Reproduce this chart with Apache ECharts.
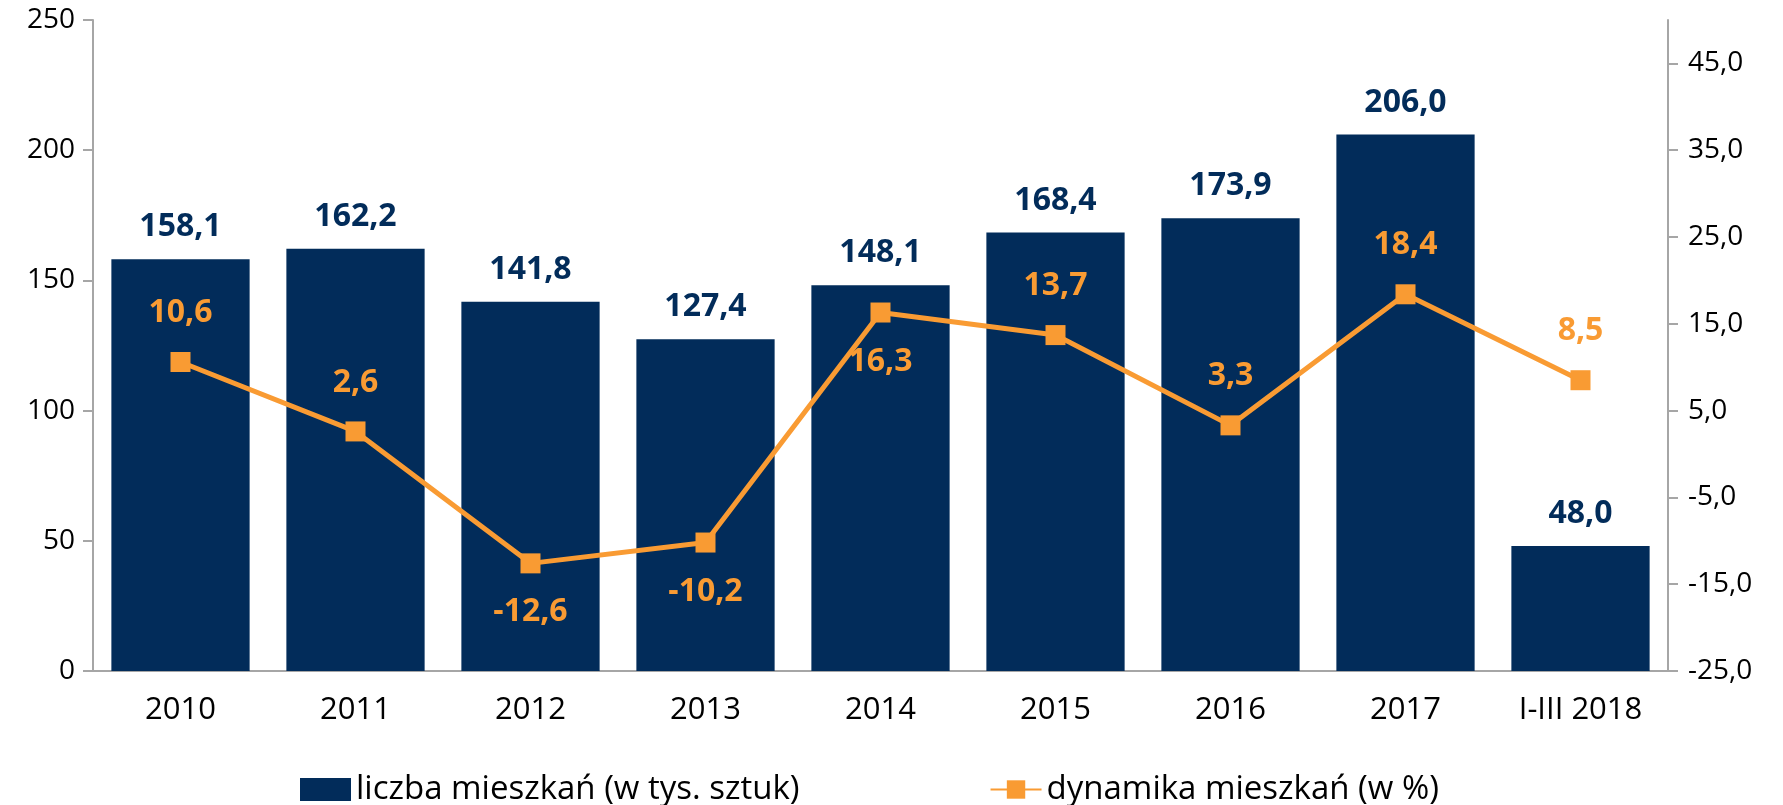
<!DOCTYPE html>
<html>
<head>
<meta charset="utf-8">
<script src="https://cdn.jsdelivr.net/npm/echarts@6/dist/echarts.min.js"></script>
<style>
  html, body { margin: 0; padding: 0; background: #fff; }
  #chart { width: 1783px; height: 805px; }
</style>
</head>
<body>
<div id="chart"></div>
<script>
var categories = ["2010", "2011", "2012", "2013", "2014", "2015", "2016", "2017", "I-III 2018"];
var liczba = [158.1, 162.2, 141.8, 127.4, 148.1, 168.4, 173.9, 206.0, 48.0];
var dynamika = [10.6, 2.6, -12.6, -10.2, 16.3, 13.7, 3.3, 18.4, 8.5];
// which line labels sit under the point
var belowPoint = [false, false, true, true, true, false, false, false, false];

var navy = "#022c5a";
var orange = "#f99b33";
var axisGray = "#a6a6a6";
var font = "Open Sans";

function fmt(v) {
  return Number(v).toFixed(1).replace(".", ",");
}

var lineData = dynamika.map(function (v, i) {
  return {
    value: v,
    label: { position: belowPoint[i] ? "bottom" : "top" }
  };
});

var myChart = echarts.init(document.getElementById("chart"));
myChart.setOption({
  animation: false,
  textStyle: { fontFamily: font },
  grid: { left: 93, right: 115, top: 20, bottom: 134 },
  legend: {
    left: 295,
    top: 768,
    itemGap: 190,
    itemWidth: 51,
    itemHeight: 23,
    textStyle: { fontSize: 33, color: "#000", fontFamily: font },
    data: [
      { name: "liczba mieszkań (w tys. sztuk)", icon: "rect" },
      { name: "dynamika mieszkań (w %)" }
    ]
  },
  xAxis: {
    type: "category",
    data: categories,
    axisLine: { lineStyle: { color: axisGray, width: 2 } },
    axisTick: { length: 11, lineStyle: { color: axisGray, width: 2 } },
    axisLabel: { fontSize: 31, color: "#000", margin: 24 }
  },
  yAxis: [
    {
      type: "value",
      min: 0,
      max: 250,
      interval: 50,
      splitLine: { show: false },
      axisLine: { show: true, lineStyle: { color: axisGray, width: 2 } },
      axisTick: { show: true, length: 10, lineStyle: { color: axisGray, width: 2 } },
      axisLabel: { fontSize: 28, color: "#000", margin: 18 }
    },
    {
      type: "value",
      min: -25,
      max: 50,
      interval: 10,
      splitLine: { show: false },
      axisLine: { show: true, lineStyle: { color: axisGray, width: 2 } },
      axisTick: { show: true, length: 10, lineStyle: { color: axisGray, width: 2 } },
      axisLabel: {
        fontSize: 28,
        color: "#000",
        margin: 20,
        showMaxLabel: false,
        formatter: fmt
      }
    }
  ],
  series: [
    {
      name: "liczba mieszkań (w tys. sztuk)",
      type: "bar",
      data: liczba,
      barCategoryGap: "21%",
      itemStyle: { color: navy },
      label: {
        show: true,
        position: "top",
        distance: 16,
        fontSize: 32,
        fontWeight: "bold",
        color: navy,
        formatter: function (p) { return fmt(p.value); }
      }
    },
    {
      name: "dynamika mieszkań (w %)",
      type: "line",
      yAxisIndex: 1,
      data: lineData,
      symbol: "rect",
      symbolSize: 20,
      lineStyle: { color: orange, width: 5 },
      itemStyle: { color: orange },
      label: {
        show: true,
        distance: 23,
        fontSize: 32,
        fontWeight: "bold",
        color: orange,
        formatter: function (p) { return fmt(p.value); }
      }
    }
  ]
});
</script>
</body>
</html>
